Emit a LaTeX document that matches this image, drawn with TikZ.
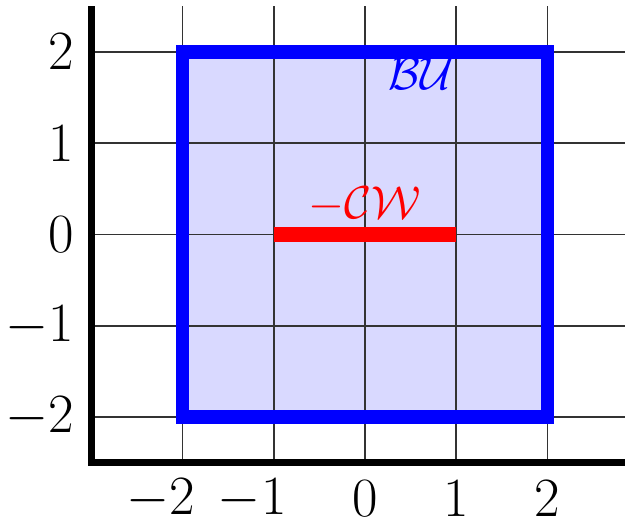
\documentclass[tikz,border=0pt]{standalone}
\usetikzlibrary{calc}
\tikzset{
 gridline/.style={draw=black!80,line width=.5pt},
 axisline/.style={line width=2.2pt,line join=miter},
 boxedge/.style={draw=blue,line width=4.3pt,line join=miter},
 boxfill/.style={fill=blue!15},
 segment/.style={draw=red,line width=4.7pt},
 ticklabel/.style={font=\fontsize{16}{19}\selectfont,inner sep=1pt},
 setlabel/.style={font=\fontsize{14}{17}\selectfont}
}
\begin{document}
\begin{tikzpicture}[x=1cm,y=1cm]
\path[use as bounding box] (-4,-3.2) rectangle (2.85,2.57);
\coordinate (SW) at (-2,-2);
\coordinate (NE) at (2,2);
\coordinate (L) at (-1,0);
\coordinate (R) at (1,0);
\fill[boxfill] (SW) rectangle (NE);
% grid
\foreach \t in {-2,...,2} {
 \draw[gridline] (\t,-2.5) -- (\t,2.5);
 \draw[gridline] (-3,\t) -- (2.85,\t);
}
\draw[boxedge] (SW) rectangle (NE);
\draw[segment] (L) -- (R);
% axes
\draw[axisline] (-3,2.5) -- (-3,-2.5) -- (2.85,-2.5);
\foreach \t in {-2,...,2}
 \node[ticklabel,anchor=east] (ly\t) at (-3.15,\t) {$\t$};
\foreach \t/\txt in {-2/\llap{$-$}$2$,-1/\llap{$-$}$1$,0/$0$,1/$1$,2/$2$}
 \node[ticklabel] (lx\t) at (\t,-2.9) {\txt};
\node[setlabel,text=blue] (bu) at (0.62,1.76) {$\mathcal{BU}$};
\node[setlabel,text=red,font=\fontsize{15.5}{18}\selectfont] (cw) at (0,0.33) {$-\mathcal{CW}$};
\end{tikzpicture}
\end{document}
